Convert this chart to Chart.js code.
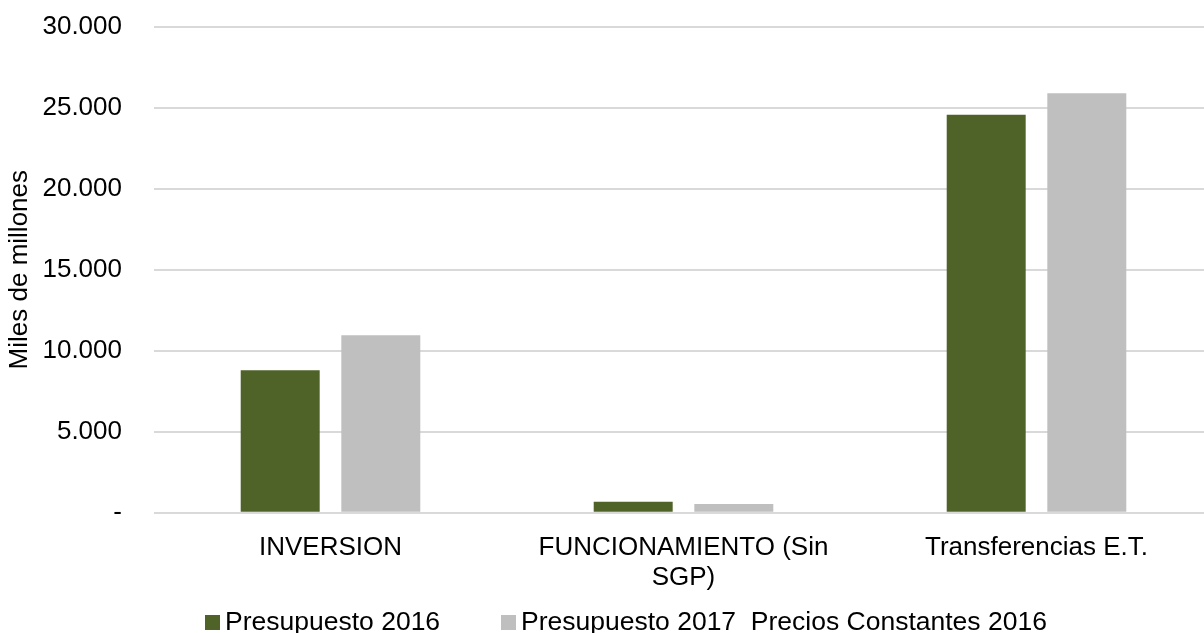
<!DOCTYPE html>
<html>
<head>
<meta charset="utf-8">
<script src="https://cdn.jsdelivr.net/npm/chart.js@4"></script>
<style>
  body { margin: 0; background: #fff; font-family: "Liberation Sans", Arial, sans-serif; }
  #marco { position: relative; width: 1204px; height: 633px; overflow: hidden; }
  #contenedor { position: absolute; left: 0; top: -21px; width: 1225px; height: 654px; }
  #leyenda { position: absolute; top: 607px; left: 0; width: 1204px; height: 28px; font-size: 26.5px; color: #000; }
  #leyenda span.item { position: absolute; top: 0; white-space: pre; line-height: 28px; display: flex; align-items: center; }
  #leyenda i { display: inline-block; width: 15px; height: 15px; margin-right: 5px; position: relative; top: 1px; }
</style>
</head>
<body>
<div id="marco">
  <div id="contenedor"><canvas id="grafico"></canvas></div>
  <div id="leyenda"></div>
</div>
<script>
// Datos del gráfico (miles de millones)
const categorias = ['INVERSION', ['FUNCIONAMIENTO (Sin', 'SGP)'], 'Transferencias E.T.'];
const series = ['Presupuesto 2016', 'Presupuesto 2017  Precios Constantes 2016'];
const presupuesto2016 = [8790, 675, 24560];
const presupuesto2017 = [10960, 535, 25890];
const colores = ['#4F6228', '#BFBFBF'];

// Etiquetas del eje Y: 0 se muestra como '-'
const formatoEje = valor => valor === 0 ? '-' : valor.toLocaleString('de-DE');

const fuente = { family: '"Liberation Sans", Arial, sans-serif', size: 26 };

const canvas = document.getElementById('grafico');
const ctx = canvas.getContext('2d');

const grafico = new Chart(ctx, {
  type: 'bar',
  data: {
    labels: categorias,
    datasets: [presupuesto2016, presupuesto2017].map((datos, indice) => ({
      label: series[indice],
      data: datos,
      backgroundColor: colores[indice],
      borderWidth: 0,
      categoryPercentage: 0.57,
      barPercentage: 0.785
    }))
  },
  options: {
    responsive: true,
    maintainAspectRatio: false,
    animation: false,
    layout: { padding: { top: 9, right: 12, bottom: 28, left: 0 } },
    scales: {
      x: {
        grid: { display: false },
        border: { display: false },
        ticks: { color: '#000', font: { ...fuente, lineHeight: 1.12 }, padding: 13, maxRotation: 0, autoSkip: false }
      },
      y: {
        min: 0,
        max: 30000,
        afterFit: escala => { escala.width = 154; },
        grid: { color: '#D9D9D9', lineWidth: 2, drawTicks: false },
        border: { display: false },
        ticks: { stepSize: 5000, color: '#000', font: fuente, padding: 32, callback: formatoEje },
        title: { display: true, text: 'Miles de millones', color: '#000', font: fuente }
      }
    },
    plugins: {
      legend: { display: false },
      tooltip: { enabled: false }
    }
  }
});

// Leyenda en HTML, con la separación de la original
const posiciones = [205, 501];
const leyenda = document.getElementById('leyenda');
series.forEach((serie, indice) => {
  const item = document.createElement('span');
  item.className = 'item';
  item.style.left = posiciones[indice] + 'px';
  const caja = document.createElement('i');
  caja.style.background = colores[indice];
  item.appendChild(caja);
  item.appendChild(document.createTextNode(serie));
  leyenda.appendChild(item);
});
</script>
</body>
</html>
